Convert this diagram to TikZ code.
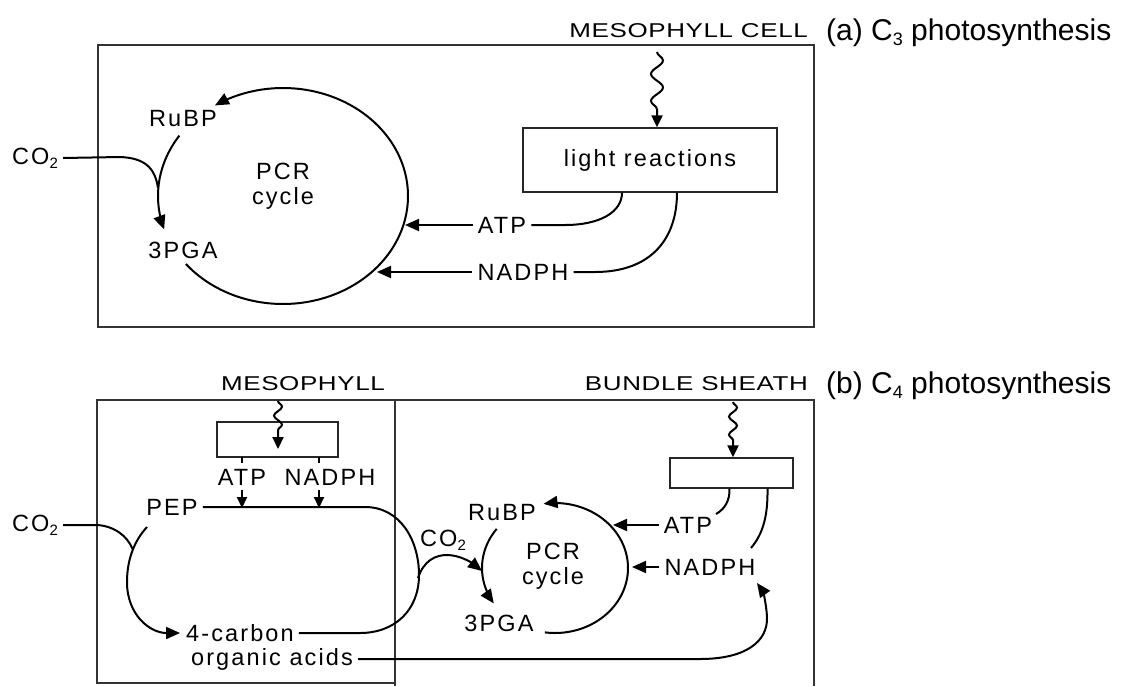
\documentclass[tikz,border=0pt]{standalone}
\usepackage{fontspec}
\setmainfont{Liberation Sans}
\newfontfamily\lblfont[LetterSpace=9]{Liberation Sans}
\newfontfamily\widefont[FakeStretch=1.3,LetterSpace=3]{Liberation Sans}
\usetikzlibrary{arrows.meta,decorations.pathmorphing}
\newcommand\subtx[2]{\raisebox{-0.35ex}{\fontsize{#1}{#1}\selectfont #2}}
\tikzset{
  lbl/.style={font=\lblfont\fontsize{23.5}{25}\selectfont, inner sep=5pt},
  hdr/.style={font=\widefont\fontsize{20}{22}\selectfont, anchor=base east, inner sep=0pt},
  capt/.style={font=\fontsize{30}{32}\selectfont, anchor=base west, inner sep=0pt},
  ln/.style={line width=2pt},
  arr/.style={ln, -{Triangle[length=14pt,width=12pt]}},
  sarr/.style={ln, -{Triangle[length=11pt,width=10pt]}},
  wave/.style={ln, -{Triangle[length=12pt,width=11pt]}, decorate,
     decoration={snake, segment length=27pt, amplitude=6pt, post length=14pt}},
  swave/.style={ln, -{Triangle[length=12pt,width=11pt]}, decorate,
     decoration={snake, segment length=18pt, amplitude=4pt, post length=13pt}},
  boxline/.style={line width=1.2pt, black!80},
  lightbox/.style={draw=black!85, line width=1.3pt, inner sep=0pt, font=\lblfont\fontsize{23.5}{25}\selectfont}
}
\begin{document}
\begin{tikzpicture}[x=1pt,y=-1pt]
\useasboundingbox (0,0) rectangle (1127,686);

% ================= (a) C3 =================
\node[hdr] (mc) at (808,37) {MESOPHYLL CELL};
\node[capt] (ca) at (826,40) {(a) C\subtx{18}{3} photosynthesis};
\draw[boxline] (98,45) rectangle (814,327);

\node[lbl] (co2a) at (35,158) {CO\subtx{15}{2}};
\node[lbl] (rubpa) at (183,119) {RuBP};
\node[lbl, align=center] (pcra) at (283,186) {PCR\\cycle};
\node[lbl] (pgaa) at (183,250) {3PGA};
\node[lbl] (atpa) at (502,225) {ATP};
\node[lbl] (nadpha) at (523,272) {NADPH};
\node[lightbox, minimum width=254pt, minimum height=64pt] (lra) at (650,160) {light reactions};
\coordinate (suna) at (657,52);
\draw[wave] (suna) -- (suna |- lra.north);

% PCR cycle
\draw[arr] plot[smooth, domain=-141:123, samples=90] ({283+125*cos(-\x)},{196+108*sin(-\x)});
\draw[arr] plot[smooth, domain=-214:-162, samples=30] ({283+125*cos(-\x)},{196+108*sin(-\x)});
\draw[ln] (co2a.east) -- (120,157) .. controls (145,158) and (155,168) .. (158,188);

\draw[arr] (atpa.west) -- (405,225);
\draw[arr] (nadpha.west) -- (377,272);
\draw[ln] (atpa.east) -- (565,225) .. controls (600,225) and (622,212) .. ([xshift=-28pt]lra.south);
\draw[ln] (nadpha.east) -- (595,272) .. controls (650,272) and (677,240) .. ([xshift=27pt]lra.south);

% ================= (b) C4 =================
\node[hdr] (mes) at (385,390) {MESOPHYLL};
\node[hdr] (bs) at (808,390) {BUNDLE SHEATH};
\node[capt] (cb) at (826,393) {(b) C\subtx{18}{4} photosynthesis};
\draw[boxline] (97,400) rectangle (395,683);
\draw[boxline] (395,686) -- (395,400) -- (814,400) -- (814,686);

% mesophyll
\node[lightbox, minimum width=121pt, minimum height=35pt] (lbm) at (277.5,439.5) {};
\coordinate (sunm) at (278,401);
\draw[swave] (sunm) -- (278,449);
\node[lbl] (atpm) at (242,477) {ATP};
\node[lbl] (nadphm) at (330,477) {NADPH};
\draw[ln] (242,457) -- (242,463);
\draw[ln] (319,457) -- (319,463);
\node[lbl] (pep) at (172,507) {PEP};
\draw[sarr] (242,490) -- (242,508);
\draw[sarr] (319,490) -- (319,508);
\node[lbl] (fc) at (240,633) {4-carbon};
\node[lbl] (oa) at (272,659) {organic acids};
\draw[ln] (pep.east) -- (365,507) .. controls (400,507) and (419,540) .. (419,575)
   .. controls (419,610) and (395,633) .. (360,633) -- (fc.east);
\node[lbl] (co2m) at (35,525) {CO\subtx{15}{2}};
\draw[ln] (co2m.east) -- (97,525) .. controls (115,526) and (128,537) .. (132.5,549);
\coordinate (pepfoot) at (147,527);
\draw[arr] (pepfoot) .. controls (134,541) and (127,560) .. (127,582)
   .. controls (127,615) and (150,633) .. ([xshift=-1pt]fc.west);

% bundle sheath
\node[lbl] (co2b) at (443,540) {CO\subtx{15}{2}};
\draw[arr] (418,578) .. controls (424,560) and (436,555) .. (447,555)
   .. controls (460,555) and (472,563) .. (482,571);
\node[lbl] (rubpb) at (502,513) {RuBP};
\node[lbl, align=center] (pcrb) at (553,566) {PCR\\cycle};
\node[lbl] (pgab) at (499,623) {3PGA};
\draw[arr] plot[smooth, domain=-98:99, samples=80] ({555+73*cos(-\x)},{568+65*sin(-\x)});
\draw[arr] plot[smooth, domain=-217:-147, samples=30] ({555+73*cos(-\x)},{568+65*sin(-\x)});
\node[lbl] (atpb) at (688,525) {ATP};
\node[lbl] (nadphb) at (710,567) {NADPH};
\draw[arr] (atpb.west) -- (613,525);
\draw[arr] (nadphb.west) -- (632,567);
\node[lightbox, minimum width=123pt, minimum height=30pt] (lbb) at (731.5,473) {};
\coordinate (sunb) at (733,402);
\draw[swave] (sunb) -- (sunb |- lbb.north);
\draw[ln] ([xshift=-2pt]lbb.south) .. controls (730,500) and (725,509) .. (716,514);
\draw[ln] ([xshift=36pt]lbb.south) .. controls (768,518) and (762,535) .. (751,548);
\draw[arr] (oa.east) -- (700,659) .. controls (745,659) and (768,642) .. (767,617)
   .. controls (766,600) and (762,590) .. (757,583);
\end{tikzpicture}
\end{document}
